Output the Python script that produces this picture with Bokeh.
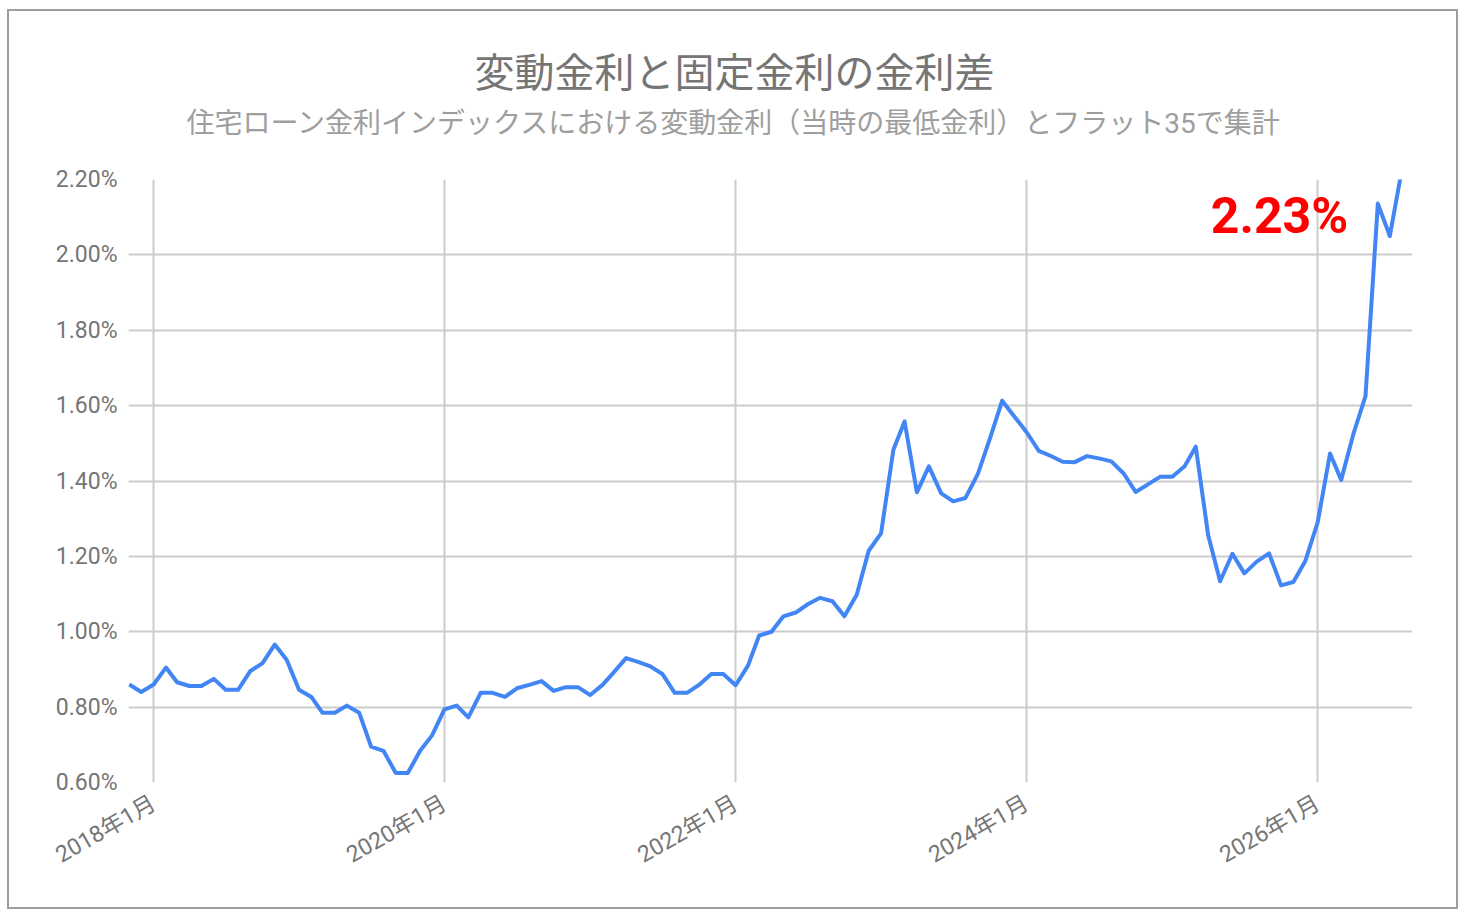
import math
from datetime import datetime
import pandas as pd
from bokeh.plotting import figure
from bokeh.models import Range1d, FixedTicker, PrintfTickFormatter, Label, Title
from bokeh.embed import file_html
from bokeh.resources import INLINE

# ---- data ----
first_month = "2017-11-01"
rates = [
    0.860, 0.840,
    0.860, 0.905, 0.866, 0.856, 0.856, 0.875, 0.846, 0.846, 0.896, 0.916, 0.966, 0.926,
    0.846, 0.827, 0.785, 0.785, 0.804, 0.785, 0.695, 0.684, 0.625, 0.625, 0.684, 0.725,
    0.794, 0.804, 0.773, 0.838, 0.838, 0.827, 0.850, 0.859, 0.869, 0.843, 0.853, 0.853,
    0.832, 0.859, 0.892, 0.930, 0.920, 0.908, 0.888, 0.838, 0.838, 0.859, 0.888, 0.888,
    0.858, 0.910, 0.990, 1.000, 1.041, 1.051, 1.073, 1.090, 1.081, 1.041, 1.098, 1.215,
    1.261, 1.483, 1.558, 1.370, 1.439, 1.367, 1.346, 1.355, 1.419, 1.512, 1.613, 1.572,
    1.530, 1.480, 1.467, 1.451, 1.450, 1.466, 1.460, 1.452, 1.420, 1.371, 1.391, 1.411,
    1.411, 1.439, 1.491, 1.257, 1.134, 1.207, 1.155, 1.186, 1.208, 1.123, 1.132, 1.188,
    1.290, 1.473, 1.403, 1.526, 1.625, 2.136, 2.050, 2.230,
]
tick_dates = ["2018-01-01", "2020-01-01", "2022-01-01", "2024-01-01", "2026-01-01"]
tick_labels = ["2018年1月", "2020年1月", "2022年1月", "2024年1月", "2026年1月"]
y_ticks = [0.6, 0.8, 1.0, 1.2, 1.4, 1.6, 1.8, 2.0, 2.2]
x_start, x_end = "2017-10-30", "2026-08-27"
title_text = "変動金利と固定金利の金利差"
subtitle_text = "住宅ローン金利インデックスにおける変動金利（当時の最低金利）とフラット35で集計"
latest_text = "2.23%"

months = pd.date_range(start=first_month, periods=len(rates), freq="MS")

JP = "Roboto, 'Noto Sans CJK JP'"

p = figure(
    width=1451, height=900,
    x_axis_type="datetime",
    x_range=Range1d(datetime.fromisoformat(x_start), datetime.fromisoformat(x_end)),
    y_range=Range1d(0.6, 2.2),
    output_backend="svg", toolbar_location=None,
    min_border_left=119, min_border_right=48, min_border_top=168, min_border_bottom=129,
)
p.margin = (9, 0, 0, 7)
p.outline_line_color = None
p.background_fill_color = "white"
p.border_fill_color = "white"
p.styles = {"border": "2px solid #9e9e9e"}

p.line(months, rates, line_color="#4285F4", line_width=4, line_join="round")

# axes
tick_ms = [pd.Timestamp(d).value // 10**6 for d in tick_dates]
p.xaxis.ticker = FixedTicker(ticks=tick_ms)
p.xaxis.major_label_overrides = {t: l for t, l in zip(tick_ms, tick_labels)}
p.xaxis.major_label_orientation = math.pi / 6
p.yaxis.ticker = FixedTicker(ticks=y_ticks)
p.yaxis.formatter = PrintfTickFormatter(format="%.2f%%")
for ax in (p.xaxis, p.yaxis):
    ax.axis_line_color = None
    ax.major_tick_line_color = None
    ax.minor_tick_line_color = None
    ax.major_tick_out = 0
    ax.major_tick_in = 0
    ax.major_label_text_color = "#757575"
    ax.major_label_text_font = JP
    ax.major_label_text_font_size = "23px"
p.yaxis.major_label_standoff = 11
p.xaxis.major_label_standoff = 19

for g in (p.xgrid, p.ygrid):
    g.grid_line_color = "#cccccc"
    g.grid_line_width = 2

# title block (stacked above the frame: spacer, subtitle, title)
p.add_layout(Title(text=" ", text_font_size="1px", standoff=32), "above")
p.add_layout(Title(text=subtitle_text, align="left", offset=58, vertical_align="middle",
                   standoff=8, text_font=JP, text_font_size="28px",
                   text_font_style="normal", text_color="#9e9e9e"), "above")
p.add_layout(Title(text=title_text, align="left", offset=346, vertical_align="middle",
                   standoff=8, text_font=JP, text_font_size="40px",
                   text_font_style="normal", text_color="#757575"), "above")

p.add_layout(Label(x=1151, y=567, x_units="screen", y_units="screen", text=latest_text,
                   text_align="center", text_baseline="middle", text_font="Roboto",
                   text_font_size="50px", text_font_style="bold", text_color="#ff0000"))

open("out.html", "w").write(file_html(p, INLINE))
